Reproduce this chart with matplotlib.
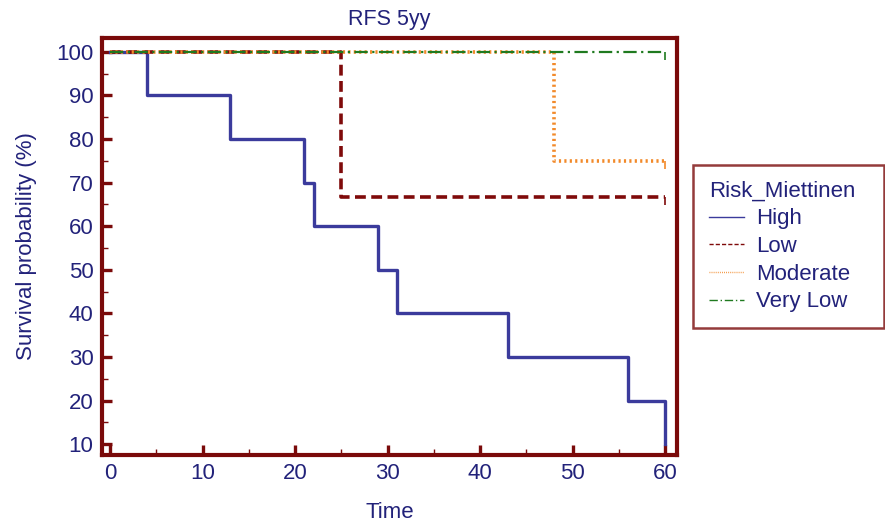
import matplotlib.pyplot as plt
from matplotlib.path import Path
from matplotlib.ticker import MultipleLocator

plt.rcParams['font.family'] = ['Liberation Sans', 'DejaVu Sans']

# Kaplan-Meier step data: event times and survival (%) after each step
high_t = [0, 4, 13, 21, 22, 29, 31, 43, 56, 60]
high_s = [100, 90, 80, 70, 60, 50, 40, 30, 20, 10]
low_t = [0, 25, 60]
low_s = [100, 66.7, 66.7]
mod_t = [0, 48, 60]
mod_s = [100, 75, 75]
vlow_t = [0, 60]
vlow_s = [100, 100]

groups = ['High', 'Low', 'Moderate', 'Very Low']

navy = '#22227a'
dred = '#7a0a0a'

fig = plt.figure(figsize=(8.85, 5.26), dpi=100)
ax = fig.add_axes([0.115, 0.135, 0.65, 0.793])

censor = Path([(0, 0), (0, -1)])

ax.step(high_t, high_s, where='post', color='#3b3b9c', lw=2.4, label=groups[0])
ax.step(low_t, low_s, where='post', color='#7f0a0a', lw=2.6, ls=(0, (3, 1.5)), label=groups[1])
ax.step(mod_t, mod_s, where='post', color='#f28a2a', lw=2.6, ls=(0, (0.6, 0.9)), label=groups[2])
ax.step(vlow_t, vlow_s, where='post', color='#1f7a1f', lw=1.6, ls=(0, (6, 2, 1, 2)), label=groups[3])
# censoring marks at last follow-up
ax.plot(low_t[-1], low_s[-1], marker=censor, ms=12, color='#7f0a0a', mew=1.2, ls='none')
ax.plot(mod_t[-1], mod_s[-1], marker=censor, ms=12, color='#f28a2a', mew=1.2, ls='none')
ax.plot(vlow_t[-1], vlow_s[-1], marker=censor, ms=12, color='#1f7a1f', mew=1.2, ls='none')

ax.set_xlim(-0.9, 61.3)
ax.set_ylim(7.5, 103.2)
ax.xaxis.set_major_locator(MultipleLocator(10))
ax.xaxis.set_minor_locator(MultipleLocator(5))
ax.yaxis.set_major_locator(MultipleLocator(10))
ax.yaxis.set_minor_locator(MultipleLocator(5))

for s in ax.spines.values():
    s.set_color(dred)
    s.set_linewidth(3)
ax.tick_params(which='major', direction='in', length=7, width=2.4, color=dred,
               labelsize=16, labelcolor=navy, pad=6)
ax.tick_params(which='minor', direction='in', length=4, width=1, color=dred)

ax.set_title('RFS 5yy', fontsize=15.5, color=navy, pad=9)
ax.set_xlabel('Time', fontsize=16, color=navy, labelpad=13)
ax.set_ylabel('Survival probability (%)', fontsize=16, color=navy, labelpad=14)

leg = ax.legend(title='Risk_Miettinen', loc='upper left',
                bbox_to_anchor=(1.028, 0.695, 0.332, 0.0), mode='expand',
                fontsize=16, title_fontsize=16, frameon=True, fancybox=False,
                handlelength=1.6, handletextpad=0.55, borderaxespad=0,
                borderpad=0.7, labelspacing=0.3)
leg.get_frame().set_edgecolor(dred)
leg.get_frame().set_linewidth(1.8)
leg.get_title().set_color(navy)
for t in leg.get_texts():
    t.set_color(navy)
for h in leg.get_lines():
    h.set_linewidth(1.0)
leg._legend_box.align = 'left'

fig.savefig('out.png', dpi=100)
